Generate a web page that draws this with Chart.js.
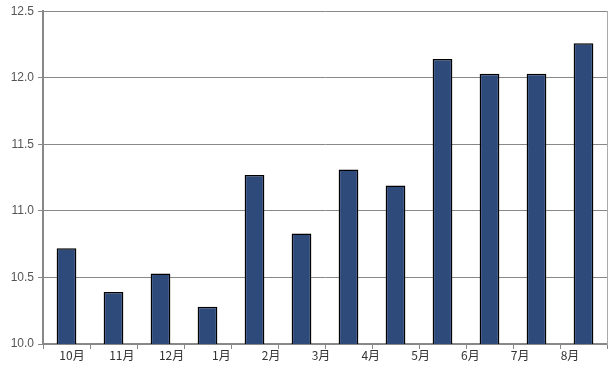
<!DOCTYPE html>
<html>
<head>
<meta charset="utf-8">
<script src="https://cdn.jsdelivr.net/npm/chart.js@4/dist/chart.umd.min.js"></script>
<style>
  html, body { margin: 0; padding: 0; background: #fff; }
  #wrap { width: 610px; height: 374px; }
</style>
</head>
<body>
<div id="wrap"><canvas id="c"></canvas></div>
<script>
// month labels under the axis (there are 11 labels but 12 bars in the original)
var months = ['10月', '11月', '12月', '1月', '2月', '3月', '4月', '5月', '6月', '7月', '8月'];
var values = [10.72, 10.39, 10.53, 10.28, 11.27, 10.83, 11.31, 11.19, 12.14, 12.03, 12.03, 12.26];
var yTicks = [10.0, 10.5, 11.0, 11.5, 12.0, 12.5];

var slots = values.map(function(v, i) { return String(i); });

var ctx = document.getElementById('c').getContext('2d');
new Chart(ctx, {
    type: 'bar',
    data: {
        labels: slots,
        datasets: [{
            data: values,
            backgroundColor: '#2d4a7b',
            borderColor: '#000',
            borderWidth: 1.5,
            borderSkipped: false,
            barPercentage: 0.42,
            categoryPercentage: 1.0,
            xAxisID: 'x',
            yAxisID: 'y'
        }]
    },
    options: {
        responsive: true,
        maintainAspectRatio: false,
        animation: false,
        layout: { padding: { top: 2, right: 3, left: 0, bottom: 13 } },
        plugins: { legend: { display: false }, tooltip: { enabled: false } },
        scales: {
            x: {
                type: 'category',
                position: 'bottom',
                weight: 0,
                offset: true,
                ticks: { display: false },
                grid: { offset: true, drawOnChartArea: false, drawTicks: true, tickLength: 5, color: '#888' },
                border: { color: '#888', width: 2 }
            },
            xl: {
                type: 'linear',
                position: 'bottom',
                weight: 1,
                offset: false,
                min: -0.582,
                max: 10.743,
                afterBuildTicks: function(axis) {
                    axis.ticks = months.map(function(m, i) { return { value: i }; });
                },
                ticks: {
                    autoSkip: false,
                    maxRotation: 0,
                    padding: 0,
                    color: '#333',
                    font: { family: '"Noto Sans CJK SC", Arial, sans-serif', size: 12, lineHeight: 1 },
                    callback: function(v) { return months[v]; }
                },
                grid: { display: false, drawTicks: false },
                border: { display: false }
            },
            y: {
                min: 10,
                max: 12.5,
                afterBuildTicks: function(axis) {
                    axis.ticks = yTicks.map(function(v) { return { value: v }; });
                },
                afterFit: function(axis) { axis.width = 43; },
                ticks: {
                    padding: 4,
                    color: '#555',
                    font: { family: 'Arial, "Liberation Sans", sans-serif', size: 12 },
                    callback: function(v) { return Number(v).toFixed(1); }
                },
                grid: { color: '#888', tickLength: 5 },
                border: { color: '#888', width: 2 }
            },
            yr: {
                position: 'right',
                ticks: { display: false },
                grid: { drawOnChartArea: false, drawTicks: false },
                border: { color: '#aaa', width: 1 }
            }
        }
    }
});
</script>
</body>
</html>
